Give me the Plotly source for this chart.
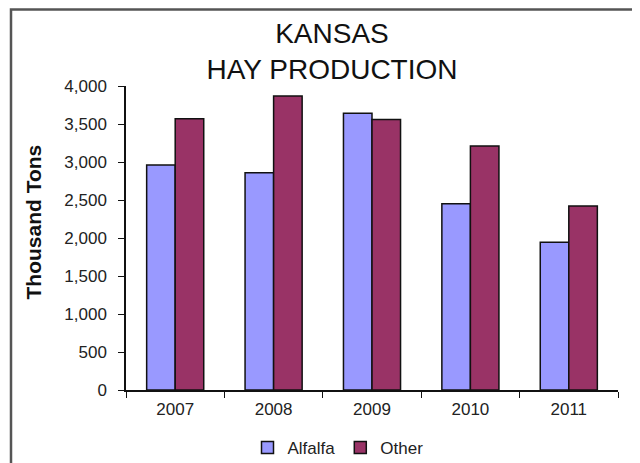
import plotly.graph_objects as go

years = ["2007", "2008", "2009", "2010", "2011"]
alfalfa = [2960, 2860, 3640, 2450, 1945]
other = [3570, 3870, 3560, 3210, 2420]

# the page puts the figure 8px in from the top-left corner
OFF = 8
# plot area on screen: x 126..618, y 86..390
L, T = 126 - OFF, 86 - OFF
R, B = 640 - (618 - OFF), 463 - (390 - OFF)
W, H = 640 - L - R, 463 - T - B


def px(x):
    return (x - OFF - L) / W


def py(y):
    return (463 - B - (y - OFF)) / H


fig = go.Figure()
fig.add_trace(go.Bar(x=years, y=alfalfa, name="Alfalfa",
                     marker=dict(color="#9999FF", line=dict(color="#111111", width=1.5))))
fig.add_trace(go.Bar(x=years, y=other, name="Other",
                     marker=dict(color="#993366", line=dict(color="#111111", width=1.5))))

fig.update_layout(
    width=640, height=463,
    margin=dict(l=L, r=R, t=T, b=B, autoexpand=False),
    paper_bgcolor="white", plot_bgcolor="white",
    font=dict(family="Liberation Sans, Arial, sans-serif", color="#222222"),
    barmode="group", bargap=0.42, bargroupgap=0,
    showlegend=True,
    legend=dict(orientation="h", xref="container", yref="container",
                x=(338 - OFF) / 640, xanchor="center", y=1 - (448 - OFF) / 463, yanchor="middle",
                font=dict(size=17), itemwidth=30, traceorder="normal"),
    title=dict(text="KANSAS<br>HAY PRODUCTION", x=(332 - OFF) / 640, xanchor="center",
               y=1 - (43 - OFF) / 463, yanchor="middle",
               font=dict(size=28, color="#111111")),
)

fig.update_xaxes(showline=True, linecolor="#111111", linewidth=1.5, automargin=False,
                 ticks="outside", tickson="boundaries", ticklen=6, tickcolor="#111111",
                 tickfont=dict(size=17), ticklabelstandoff=3, showgrid=False)
fig.update_yaxes(range=[0, 4000], dtick=500, tickformat=",", showline=True, automargin=False,
                 linecolor="#111111", linewidth=1.5, ticks="outside", ticklen=6,
                 tickcolor="#111111", tickfont=dict(size=17), ticklabelstandoff=8,
                 showgrid=False, zeroline=False)

fig.add_annotation(text="<b>Thousand Tons</b>", textangle=-90, xref="paper", yref="paper",
                   x=px(20), y=py(222), showarrow=False, font=dict(size=21, color="#111111"))

# outer frame
fig.add_shape(type="rect", xref="paper", yref="paper", x0=px(11), x1=px(638), y0=py(9.5), y1=py(490),
              line=dict(color="#555555", width=2.5), layer="below")

fig.write_html("out.html")
